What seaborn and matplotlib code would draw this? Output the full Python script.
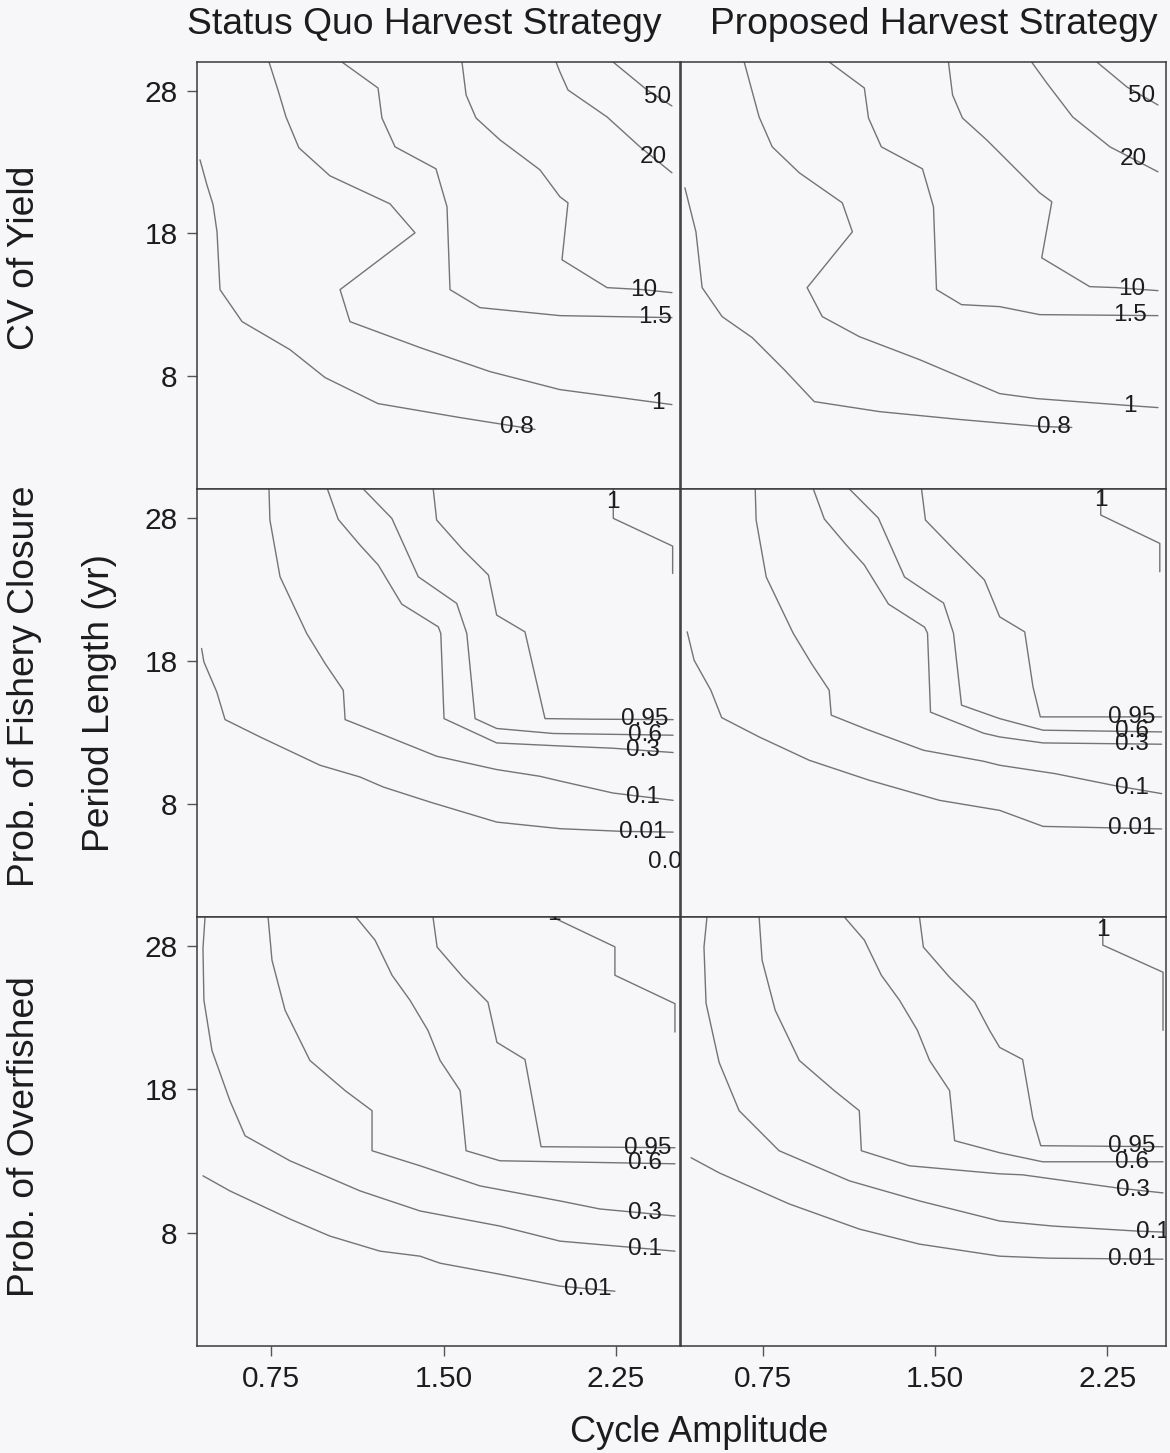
import numpy as np
import pandas as pd
import matplotlib
matplotlib.use("Agg")
import matplotlib.pyplot as plt
import seaborn as sns

sns.set_theme(style="white")
plt.rcParams["font.family"] = ["Liberation Sans", "DejaVu Sans"]

# ---- contour lines: level -> (cycle amplitude, period length) vertices ----
cv_status_quo = {
    "0.8": ([0.441, 0.471, 0.498, 0.515, 0.528, 0.624, 0.832, 0.985, 1.215, 1.572, 1.898],
            [23.15, 21.40, 20.00, 18.11, 14.06, 11.82, 9.86, 7.90, 6.08, 5.10, 4.27]),
    "1": ([0.741, 0.780, 0.815, 0.871, 1.006, 1.267, 1.376, 1.050, 1.093, 1.398, 1.702, 2.006, 2.267, 2.493],
          [30.0, 28.04, 26.15, 23.99, 22.03, 20.07, 18.04, 14.06, 11.82, 10.0, 8.32, 7.06, 6.50, 6.01]),
    "1.5": ([1.058, 1.215, 1.232, 1.289, 1.467, 1.515, 1.528, 1.658, 2.006, 2.493],
            [30.0, 28.18, 26.08, 24.06, 22.52, 19.86, 14.06, 12.80, 12.24, 12.10]),
    "10": ([1.580, 1.598, 1.641, 1.745, 1.919, 2.006, 2.041, 2.015, 2.211, 2.367, 2.493],
           [30.0, 27.69, 26.08, 24.55, 22.45, 20.56, 20.14, 16.15, 14.20, 14.06, 13.85]),
    "20": ([1.989, 2.006, 2.041, 2.211, 2.354, 2.493],
           [30.0, 29.30, 28.04, 26.15, 24.06, 22.24]),
    "50": ([2.237, 2.385, 2.493],
           [30.0, 28.04, 26.92]),
}
cv_proposed = {
    "0.8": ([0.412, 0.460, 0.487, 0.574, 0.705, 0.844, 0.975, 1.258, 1.607, 1.956, 2.096],
            [21.19, 18.11, 14.20, 12.17, 10.70, 8.46, 6.22, 5.52, 4.97, 4.48, 4.41]),
    "1": ([0.670, 0.735, 0.792, 0.910, 1.097, 1.141, 0.944, 1.010, 1.171, 1.433, 1.782, 1.943, 2.349, 2.471],
          [30.0, 26.15, 24.06, 22.24, 20.14, 18.11, 14.20, 12.17, 10.77, 9.16, 6.78, 6.43, 5.94, 5.80]),
    "1.5": ([1.040, 1.193, 1.211, 1.267, 1.446, 1.494, 1.507, 1.616, 1.782, 1.956, 2.471],
            [30.0, 28.18, 26.08, 24.06, 22.52, 19.86, 14.06, 13.01, 12.87, 12.31, 12.24]),
    "10": ([1.559, 1.577, 1.620, 1.725, 1.782, 1.956, 2.009, 1.965, 2.174, 2.292, 2.471],
           [30.0, 27.69, 26.08, 24.55, 23.64, 20.84, 20.21, 16.29, 14.27, 14.20, 13.99]),
    "20": ([1.921, 1.987, 2.100, 2.262, 2.471],
           [30.0, 28.53, 26.15, 24.06, 22.31]),
    "50": ([2.205, 2.336, 2.471],
           [30.0, 28.25, 26.99]),
}
closure_status_quo = {
    "0.001": ([2.53, 2.60], [3.92, 3.92]),
    "0.01": ([0.448, 0.458, 0.514, 0.550, 0.702, 0.963, 1.137, 1.238, 1.441, 1.731, 2.006, 2.280, 2.498],
             [18.86, 17.92, 15.82, 13.89, 12.68, 10.70, 9.88, 9.18, 8.13, 6.73, 6.27, 6.08, 6.03]),
    "0.1": ([0.741, 0.745, 0.789, 0.905, 0.985, 1.064, 1.072, 1.224, 1.470, 1.731, 1.919, 2.006, 2.237, 2.498],
            [30.0, 27.83, 23.87, 19.91, 17.81, 15.94, 13.89, 12.92, 11.33, 10.40, 9.93, 9.60, 8.76, 8.25]),
    "0.3": ([0.995, 1.042, 1.137, 1.216, 1.318, 1.477, 1.488, 1.502, 1.731, 2.006, 2.237, 2.498],
            [30.0, 27.88, 26.08, 24.69, 21.96, 20.37, 19.91, 13.96, 12.26, 12.05, 11.89, 11.59]),
    "0.6": ([1.151, 1.275, 1.390, 1.557, 1.601, 1.637, 1.731, 1.977, 2.498],
            [30.0, 27.95, 23.87, 22.01, 19.91, 13.96, 13.27, 12.92, 12.80]),
    "0.95": ([1.455, 1.470, 1.586, 1.695, 1.731, 1.854, 1.941, 2.137, 2.498],
             [30.0, 27.83, 25.73, 23.99, 21.19, 20.02, 13.96, 13.92, 13.89]),
    "1": ([2.238, 2.238, 2.496, 2.496],
          [30.0, 27.95, 26.01, 24.10]),
}
closure_proposed = {
    "0.01": ([0.422, 0.452, 0.525, 0.572, 0.735, 0.953, 1.215, 1.520, 1.782, 1.971, 2.487],
             [20.02, 18.04, 15.94, 14.03, 12.68, 11.05, 9.65, 8.25, 7.55, 6.43, 6.25]),
    "0.1": ([0.718, 0.722, 0.766, 0.883, 0.962, 1.040, 1.049, 1.202, 1.450, 1.712, 1.782, 2.022, 2.276, 2.487],
            [30.0, 27.83, 23.85, 19.93, 17.83, 15.94, 14.20, 13.22, 11.75, 10.98, 10.70, 10.12, 9.30, 8.72]),
    "0.3": ([0.971, 1.019, 1.115, 1.193, 1.298, 1.455, 1.468, 1.481, 1.712, 1.782, 1.971, 2.487],
            [30.0, 27.90, 26.08, 24.69, 21.96, 20.35, 19.93, 14.41, 12.94, 12.68, 12.26, 12.17]),
    "0.6": ([1.128, 1.254, 1.368, 1.538, 1.581, 1.616, 1.782, 1.971, 2.487],
            [30.0, 27.97, 23.85, 22.03, 19.93, 14.90, 13.96, 13.15, 13.03]),
    "0.95": ([1.442, 1.459, 1.586, 1.716, 1.782, 1.891, 1.927, 1.959, 2.487],
             [30.0, 27.83, 25.73, 23.64, 21.07, 20.02, 16.18, 14.08, 14.08]),
    "1": ([2.222, 2.222, 2.479, 2.479],
          [30.0, 28.18, 26.20, 24.22]),
}
overfished_status_quo = {
    "0.01": ([0.454, 0.571, 0.832, 1.006, 1.224, 1.398, 1.485, 1.745, 2.006, 2.245],
             [11.96, 10.91, 8.95, 7.76, 6.71, 6.36, 5.87, 5.10, 4.27, 3.92]),
    "0.1": ([0.463, 0.454, 0.458, 0.493, 0.571, 0.637, 0.832, 1.137, 1.398, 1.745, 2.006, 2.506],
            [30.0, 27.83, 24.20, 20.70, 17.20, 14.75, 13.01, 10.91, 9.51, 8.46, 7.41, 6.71]),
    "0.3": ([0.737, 0.754, 0.811, 0.919, 1.072, 1.189, 1.189, 1.398, 1.658, 2.006, 2.180, 2.506],
            [30.0, 26.99, 23.50, 20.00, 17.90, 16.50, 13.71, 12.66, 11.26, 10.21, 9.65, 9.16]),
    "0.6": ([1.119, 1.202, 1.276, 1.354, 1.432, 1.485, 1.572, 1.598, 1.745, 2.506],
            [30.0, 28.39, 25.94, 24.20, 22.10, 20.00, 17.90, 13.71, 13.01, 12.80]),
    "0.95": ([1.454, 1.472, 1.585, 1.693, 1.732, 1.854, 1.924, 2.506],
             [30.0, 27.90, 25.80, 24.06, 21.26, 20.07, 13.99, 13.92]),
    "1": ([1.972, 2.245, 2.245, 2.506, 2.506],
          [30.0, 27.92, 25.94, 23.96, 21.98]),
}
overfished_proposed = {
    "0.01": ([0.439, 0.561, 0.866, 1.171, 1.433, 1.782, 2.000, 2.493],
             [13.22, 12.17, 10.00, 8.25, 7.20, 6.36, 6.22, 6.15]),
    "0.1": ([0.508, 0.495, 0.504, 0.561, 0.648, 0.822, 1.128, 1.433, 1.782, 2.013, 2.379, 2.493],
            [30.0, 27.90, 23.99, 19.86, 16.50, 13.71, 11.61, 10.21, 8.81, 8.46, 8.11, 8.04]),
    "0.3": ([0.735, 0.748, 0.805, 0.910, 1.062, 1.171, 1.180, 1.389, 1.782, 1.882, 2.292, 2.493],
            [30.0, 26.99, 23.50, 20.00, 17.90, 16.50, 13.71, 12.66, 12.10, 12.03, 11.12, 10.77]),
    "0.6": ([1.106, 1.193, 1.267, 1.346, 1.424, 1.477, 1.564, 1.586, 1.782, 1.969, 2.493],
            [30.0, 28.39, 25.94, 24.20, 22.10, 20.00, 17.90, 14.41, 13.57, 12.94, 12.94]),
    "0.95": ([1.433, 1.450, 1.564, 1.673, 1.738, 1.782, 1.882, 1.926, 1.961, 2.493],
             [30.0, 27.90, 25.80, 24.06, 22.10, 20.91, 20.07, 16.01, 14.06, 13.99]),
    "1": ([2.231, 2.231, 2.493, 2.493],
          [30.0, 28.04, 26.15, 22.10]),
}

# ---- where each level's label sits: an x on the line's final run, or an explicit (x, y) ----
cv_status_quo_labels = {"0.8": 1.82, "1": 2.43, "1.5": 2.42, "10": 2.37, "20": 2.41, "50": 2.43}
cv_proposed_labels = {"0.8": 2.02, "1": 2.35, "1.5": 2.35, "10": 2.357, "20": 2.362, "50": 2.40}
closure_status_quo_labels = {"0.001": (2.52, 3.92), "0.01": 2.367, "0.1": 2.367, "0.3": 2.367,
                             "0.6": 2.376, "0.95": 2.376, "1": (2.238, 29.1)}
closure_proposed_labels = {"0.01": 2.356, "0.1": 2.356, "0.3": 2.356, "0.6": 2.356,
                           "0.95": 2.356, "1": (2.222, 29.2)}
overfished_status_quo_labels = {"0.01": 2.128, "0.1": 2.376, "0.3": 2.376, "0.6": 2.376,
                                "0.95": 2.389, "1": (1.98, 30.2)}
overfished_proposed_labels = {"0.01": 2.357, "0.1": 2.45, "0.3": 2.362, "0.6": 2.357,
                              "0.95": 2.357, "1": (2.231, 29.1)}

strategies = ["Status Quo Harvest Strategy", "Proposed Harvest Strategy"]
measures = ["CV of Yield", "Prob. of Fishery Closure", "Prob. of Overfished"]
x_ticks = [0.75, 1.50, 2.25]
y_ticks = [8, 18, 28]

panels = [
    [(cv_status_quo, cv_status_quo_labels), (cv_proposed, cv_proposed_labels)],
    [(closure_status_quo, closure_status_quo_labels), (closure_proposed, closure_proposed_labels)],
    [(overfished_status_quo, overfished_status_quo_labels), (overfished_proposed, overfished_proposed_labels)],
]

LINE = "#747474"
INK = "#1c1c1c"
BG = "#f7f6f8"

W, H = 1170, 1453
fig = plt.figure(figsize=(W / 100, H / 100), dpi=100, facecolor=BG)

col_px = [(197, 680), (681, 1166)]
row_px = [(62, 489), (489, 917), (917, 1346)]
col_xlim = [(0.428, 2.528), (0.395, 2.506)]


def label_point(xs, ys, spec):
    if isinstance(spec, tuple):
        return spec
    # use the final run of the line where x keeps increasing
    i = len(xs) - 1
    while i > 0 and xs[i - 1] < xs[i]:
        i -= 1
    return spec, float(np.interp(spec, xs[i:], ys[i:]))


for r, (y0, y1) in enumerate(row_px):
    for c, (x0, x1) in enumerate(col_px):
        ax = fig.add_axes([x0 / W, 1 - y1 / H, (x1 - x0) / W, (y1 - y0) / H])
        ax.set_facecolor(BG)
        lines, labels = panels[r][c]
        frames = []
        for lev, (xs, ys) in lines.items():
            frames.append(pd.DataFrame({"amp": xs, "period": ys, "level": lev}))
        df = pd.concat(frames, ignore_index=True)
        sns.lineplot(data=df, x="amp", y="period", units="level", estimator=None,
                     sort=False, color=LINE, lw=1.0, ax=ax, legend=False)
        for lev, spec in labels.items():
            xs, ys = lines[lev]
            lx, ly = label_point(np.asarray(xs), np.asarray(ys), spec)
            ax.text(lx, ly, lev, ha="center", va="center", fontsize=17.5,
                    color=INK, clip_on=True)
        ax.set_xlim(*col_xlim[c])
        ax.set_ylim(0.1, 30)
        ax.set_xlabel("")
        ax.set_ylabel("")
        for s in ax.spines.values():
            s.set_color("#3a3a3a")
            s.set_linewidth(1.1)
        ax.tick_params(direction="out", length=7, width=1.0, color="#555555",
                       labelsize=21.5, labelcolor=INK, pad=7)
        ax.set_xticks(x_ticks)
        ax.set_yticks(y_ticks)
        if r == 2:
            ax.set_xticklabels([f"{v:.2f}" for v in x_ticks])
            ax.tick_params(axis="x", bottom=True)
        else:
            ax.tick_params(axis="x", bottom=False, labelbottom=False)
        if c == 0:
            ax.set_yticklabels([str(v) for v in y_ticks])
            ax.tick_params(axis="y", left=True)
        else:
            ax.tick_params(axis="y", left=False, labelleft=False)

big = 26.8
fig.text(424 / W, 1 - 24 / H, strategies[0], ha="center", va="center", fontsize=big, color=INK)
fig.text(934 / W, 1 - 24 / H, strategies[1], ha="center", va="center", fontsize=big, color=INK)
for name, yc in zip(measures, [258, 686, 1137]):
    fig.text(25 / W, 1 - yc / H, name, rotation=90, ha="center", va="center",
             fontsize=big, color=INK)
fig.text(100 / W, 1 - 703 / H, "Period Length (yr)", rotation=90, ha="center",
         va="center", fontsize=big, color=INK)
fig.text(699 / W, 1 - 1433 / H, "Cycle Amplitude", ha="center", va="center",
         fontsize=26, color=INK)

fig.savefig("out.png", dpi=100, facecolor=BG)
